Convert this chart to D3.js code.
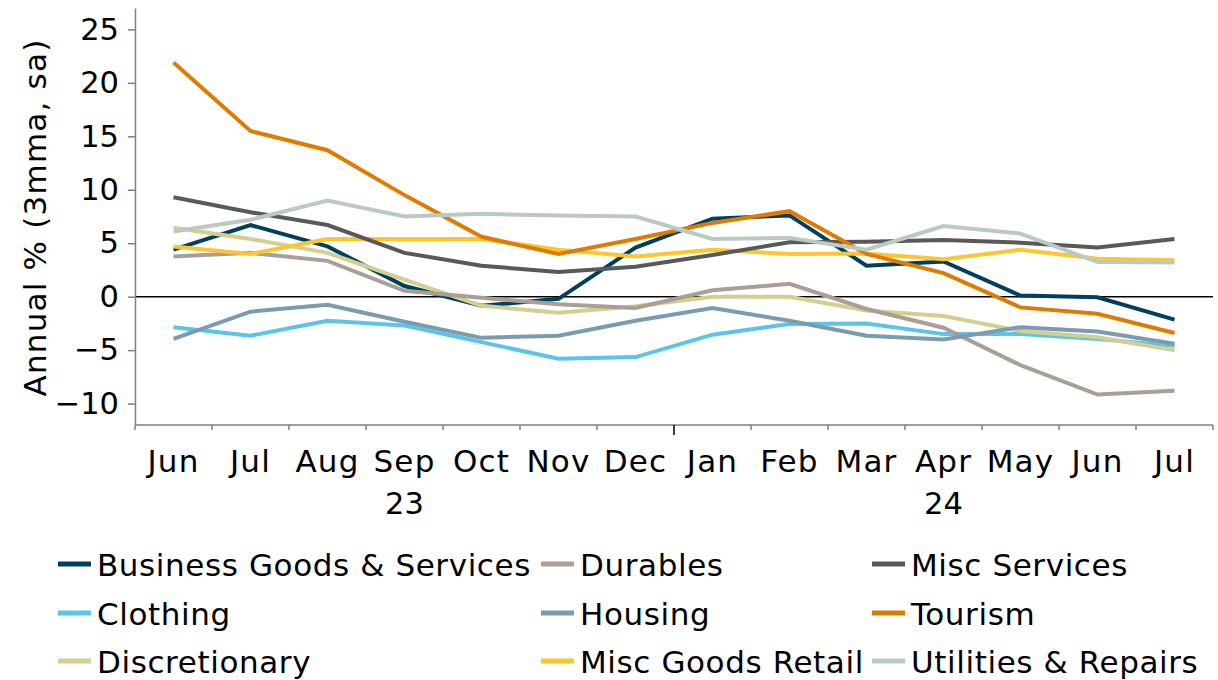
<!DOCTYPE html>
<html>
<head>
<meta charset="utf-8">
<script src="https://cdn.jsdelivr.net/npm/d3@7"></script>
<style>
  html, body { margin: 0; padding: 0; background: #fff; }
  svg { display: block; font-family: "DejaVu Sans", Verdana, sans-serif; }
</style>
</head>
<body>
<svg id="chart" width="1218" height="680"></svg>
<script>
// ---- Data ----
const monthKeys = ["2023-06","2023-07","2023-08","2023-09","2023-10","2023-11","2023-12",
                   "2024-01","2024-02","2024-03","2024-04","2024-05","2024-06","2024-07"];
const monthLabels = ["Jun","Jul","Aug","Sep","Oct","Nov","Dec","Jan","Feb","Mar","Apr","May","Jun","Jul"];
const yearLabels = ["23","24"];
const yearStart = [0, 7];
const yearEnd = [6, 13];
const yTicks = [-10, -5, 0, 5, 10, 15, 20, 25];

const seriesNames = ["Business Goods & Services","Clothing","Discretionary","Durables","Housing",
                     "Misc Goods Retail","Misc Services","Tourism","Utilities & Repairs"];
const seriesColors = ["#00405f","#5bc5e9","#d3cf8f","#aa9f95","#7a9bb0",
                      "#fcc630","#595959","#df7c00","#b9cbc1"];

const businessGoods = [4.4, 6.7, 4.7, 1.0, -0.85, -0.2, 4.6, 7.3, 7.6, 2.9, 3.3, 0.1, -0.05, -2.15];
const clothing      = [-2.85, -3.65, -2.25, -2.7, -4.25, -5.8, -5.65, -3.55, -2.55, -2.5, -3.5, -3.5, -3.95, -4.6];
const discretionary = [6.45, 5.4, 4.1, 1.6, -0.85, -1.5, -0.9, 0.0, 0.0, -1.3, -1.8, -3.2, -3.8, -5.0];
const durables      = [3.75, 4.1, 3.35, 0.55, -0.1, -0.7, -1.05, 0.6, 1.2, -1.15, -2.9, -6.4, -9.15, -8.8];
const housing       = [-3.95, -1.4, -0.75, -2.35, -3.85, -3.65, -2.25, -1.05, -2.25, -3.65, -4.0, -2.85, -3.25, -4.4];
const miscGoods     = [4.7, 4.0, 5.4, 5.4, 5.4, 4.4, 3.75, 4.4, 4.0, 4.05, 3.5, 4.4, 3.55, 3.4];
const miscServices  = [9.3, 7.9, 6.7, 4.1, 2.9, 2.3, 2.8, 3.9, 5.1, 5.15, 5.3, 5.05, 4.6, 5.4];
const tourism       = [21.9, 15.5, 13.7, 9.5, 5.6, 4.0, 5.4, 6.9, 8.0, 4.0, 2.2, -1.0, -1.6, -3.4];
const utilities     = [6.1, 7.2, 9.0, 7.5, 7.75, 7.6, 7.5, 5.4, 5.5, 4.4, 6.6, 5.9, 3.25, 3.2];

const seriesValues = [businessGoods, clothing, discretionary, durables, housing,
                      miscGoods, miscServices, tourism, utilities];

// legend layout order (row-major as displayed)
const legendOrder = [0, 3, 6, 1, 4, 7, 2, 5, 8];

// ---- Layout ----
const svg = d3.select("#chart");
const plot = { left: 135, right: 1213, top: 8, bottom: 425 };
const tickFont = 30.5;
const textFont = 31;

const x = d3.scaleBand().domain(monthKeys).range([plot.left, plot.right]).padding(0);
const y = d3.scaleLinear().domain([-12, 27]).range([plot.bottom, plot.top]);

// Zero line
svg.append("line")
  .attr("x1", plot.left).attr("x2", plot.right)
  .attr("y1", y(0)).attr("y2", y(0))
  .attr("stroke", "#000").attr("stroke-width", 1.5);

// Y axis
const yAxis = svg.append("g")
  .attr("transform", `translate(${plot.left},0)`)
  .call(d3.axisLeft(y).tickValues(yTicks).tickSize(7).tickPadding(9).tickSizeOuter(0));
yAxis.select(".domain").attr("stroke", "#7f7f7f").attr("stroke-width", 1.5);
yAxis.selectAll(".tick line").attr("stroke", "#7f7f7f").attr("stroke-width", 1.5);
yAxis.selectAll(".tick text").attr("font-size", tickFont).attr("fill", "#000")
  .attr("font-family", "DejaVu Sans, Verdana, sans-serif");

// X axis (ticks at band boundaries)
const xg = svg.append("g");
xg.append("line")
  .attr("x1", plot.left).attr("x2", plot.right)
  .attr("y1", plot.bottom).attr("y2", plot.bottom)
  .attr("stroke", "#7f7f7f").attr("stroke-width", 1.5);
const boundaries = monthKeys.map(k => x(k)).concat([x.range()[1]]);
xg.selectAll("line.tk").data(boundaries).enter().append("line")
  .attr("class", "tk")
  .attr("x1", d => d).attr("x2", d => d)
  .attr("y1", plot.bottom)
  .attr("y2", (d, i) => plot.bottom + (i === 7 ? 10 : 5))
  .attr("stroke", (d, i) => i === 7 ? "#000" : "#7f7f7f")
  .attr("stroke-width", 1.5);

xg.selectAll("text.mon").data(monthKeys).enter().append("text")
  .attr("class", "mon")
  .attr("x", d => x(d) + x.bandwidth() / 2)
  .attr("y", 472)
  .attr("text-anchor", "middle")
  .attr("font-size", textFont)
  .attr("letter-spacing", 1.2)
  .attr("fill", "#000")
  .text((d, i) => monthLabels[i]);

xg.selectAll("text.yr").data(yearLabels).enter().append("text")
  .attr("class", "yr")
  .attr("x", (d, i) => (x(monthKeys[yearStart[i]]) + x(monthKeys[yearEnd[i]]) + x.bandwidth()) / 2)
  .attr("y", 514)
  .attr("text-anchor", "middle")
  .attr("font-size", tickFont)
  .attr("fill", "#000")
  .text(d => d);

// Y axis label
svg.append("text")
  .attr("transform", `translate(46, 217.5) rotate(-90)`)
  .attr("text-anchor", "middle")
  .attr("font-size", textFont)
  .attr("letter-spacing", 1.2)
  .attr("fill", "#000")
  .text("Annual % (3mma, sa)");

// Lines
const line = d3.line()
  .x((d, i) => x(monthKeys[i]) + x.bandwidth() / 2)
  .y(d => y(d));

svg.append("g").selectAll("path").data(seriesValues).enter().append("path")
  .attr("d", d => line(d))
  .attr("fill", "none")
  .attr("stroke", (d, i) => seriesColors[i])
  .attr("stroke-width", 4)
  .attr("stroke-linejoin", "miter");

// Legend
const legCols = [58, 541, 872];
const legRows = [576, 625, 673];
const leg = svg.append("g");
legendOrder.forEach((si, k) => {
  const cx = legCols[k % 3];
  const cy = legRows[Math.floor(k / 3)];
  leg.append("line")
    .attr("x1", cx).attr("x2", cx + 33)
    .attr("y1", cy - 12).attr("y2", cy - 12)
    .attr("stroke", seriesColors[si]).attr("stroke-width", 5);
  leg.append("text")
    .attr("x", cx + 39).attr("y", cy)
    .attr("font-size", textFont)
    .attr("letter-spacing", 0.6)
    .attr("fill", "#000")
    .text(seriesNames[si]);
});
</script>
</body>
</html>
